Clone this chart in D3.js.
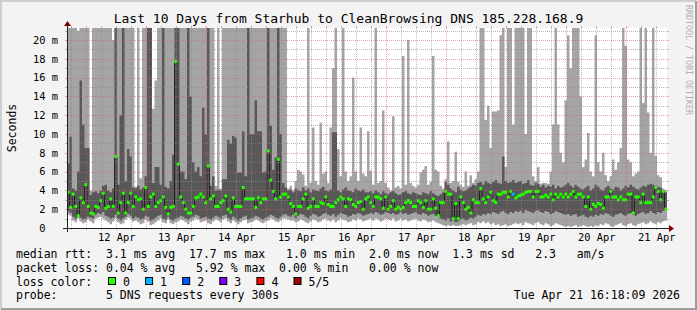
<!DOCTYPE html>
<html>
<head>
<meta charset="utf-8">
<script src="https://cdn.jsdelivr.net/npm/d3@7"></script>
<style>
  body { margin: 0; background: #fff; }
  svg text { font-family: "DejaVu Sans Mono", monospace; white-space: pre; }
</style>
</head>
<body>
<svg id="chart" width="697" height="310"></svg>
<script>
// hourly medians (ms), 240 points over 10 days
const med = [
  3.8,2.2,3.6,2.3,1.3,3.2,2.7,4.6,2.3,1.6, 1.5,2.3,2.2,2.9,3.7,2.1,2.3,3.1,2.3,7.6,
  1.6,2.7,3.7,1.6,2.7,3.7,2.3,3.3,3.0,3.1, 2.0,4.3,2.3,3.3,3.6,2.3,2.7,2.9,3.3,2.2,
  1.5,2.2,2.3,17.7,6.8,3.3,2.7,2.0,1.6,1.6, 2.3,3.2,3.3,3.6,3.3,2.7,6.6,3.1,3.4,2.3,
  2.3,2.7,2.9,3.4,2.0,1.7,3.2,2.3,2.3,2.3, 4.3,3.1,3.1,3.1,3.1,2.2,3.2,2.7,3.1,3.1,
  8.2,5.1,3.9,3.1,7.3,3.3,3.6,3.6,3.3,2.6, 2.3,1.5,2.3,2.3,3.1,3.6,2.1,2.3,3.1,2.3,
  2.3,2.7,2.6,3.3,2.5,2.3,2.3,2.7,3.0,3.3, 3.1,2.3,3.1,3.0,2.5,2.3,2.7,2.8,2.0,3.1,
  3.3,2.7,2.3,3.3,3.3,3.1,2.1,3.3,2.0,2.3, 2.9,2.0,2.2,2.0,2.2,2.7,2.9,2.7,2.3,2.3,
  2.9,2.7,2.2,2.9,2.0,2.0,3.1,2.1,1.3,2.7, 2.7,3.9,3.6,3.6,1.0,2.6,1.0,3.3,2.7,2.0,
  2.2,1.6,3.0,2.7,2.7,4.2,3.1,2.7,3.3,3.8, 2.9,2.7,3.6,3.6,3.8,3.8,3.3,3.9,3.6,3.2,
  3.4,3.5,3.6,3.8,3.9,3.9,3.3,3.9,3.9,3.3, 3.3,3.5,3.3,3.6,3.0,3.6,3.3,3.6,3.3,3.6,
  3.3,3.6,3.9,3.3,3.6,3.6,3.3,2.3,3.3,2.0, 2.5,2.3,2.6,2.5,2.1,3.3,3.3,3.9,3.3,3.3,
  3.0,3.3,3.0,3.0,3.6,3.6,1.6,3.3,3.3,2.7, 3.6,2.7,2.7,2.7,3.3,4.3,3.9,3.0,3.9,2.0
];
// fastest ping of each hour
const pMin = [
  1.4,1.3,0.8,0.6,1.0,0.7,0.5,0.6,0.9,0.7, 0.5,1.0,1.1,1.2,1.0,0.8,0.6,0.4,0.7,1.0,
  0.6,0.4,0.5,0.9,1.1,1.0,0.7,0.8,0.6,0.4, 0.5,0.9,0.7,0.3,0.4,0.6,0.8,1.0,0.6,0.5,
  0.9,0.5,0.4,0.6,0.7,0.9,0.8,0.6,0.4,0.7, 0.8,1.0,0.9,0.6,0.7,0.8,0.5,0.4,0.7,0.9,
  0.8,0.6,0.9,1.0,0.7,0.5,0.8,0.6,0.4,0.6, 0.8,0.9,0.5,0.6,0.7,0.9,0.8,0.6,0.5,0.7,
  0.8,1.0,0.9,0.7,0.6,0.8,1.0,1.0,0.9,0.8, 0.8,0.6,0.7,0.9,0.8,0.6,0.5,0.7,0.9,0.8,
  0.6,0.7,0.9,1.0,0.8,0.7,0.9,0.6,0.8,1.0, 0.9,0.8,0.6,0.7,0.9,0.8,1.0,0.9,0.7,0.8,
  0.9,1.0,0.8,1.0,0.9,0.7,0.8,1.0,0.9,0.8, 1.0,0.7,0.8,1.0,0.8,0.9,0.7,0.8,0.9,1.0,
  0.8,0.7,0.9,0.8,0.6,0.7,0.8,0.6,0.5,0.4, 0.3,0.2,0.3,0.2,0.3,0.2,0.2,0.3,0.4,0.3,
  0.4,0.5,0.3,0.4,0.6,0.5,0.7,0.5,0.6,0.4, 0.5,0.3,0.4,0.2,0.3,0.4,0.2,0.3,0.4,0.5,
  0.4,0.5,0.3,0.6,0.5,0.4,0.3,0.5,0.6,0.4, 0.3,0.5,0.4,0.2,0.3,0.5,0.4,0.3,0.2,0.1,
  0.2,0.1,0.2,0.3,0.1,0.2,0.3,0.2,0.1,0.2, 0.1,0.3,0.2,0.4,0.3,0.5,0.4,0.2,0.1,0.3,
  0.4,0.5,0.3,0.2,0.4,0.5,0.3,0.2,0.4,0.5, 0.6,0.4,0.5,0.7,0.5,0.4,0.6,0.5,0.7,0.8
];
// 2nd fastest ping
const p2 = [
  1.8,1.6,1.2,1.0,1.3,1.1,0.9,1.0,1.2,1.1, 1.0,1.4,1.6,1.5,1.7,1.3,1.2,1.0,1.1,1.4,
  1.0,0.8,1.0,1.2,1.5,1.3,1.0,1.2,1.1,0.9, 1.0,1.3,1.2,0.8,0.9,1.1,1.3,1.4,1.0,0.9,
  1.2,0.9,0.8,1.0,1.1,1.3,1.2,1.0,0.9,1.1, 1.2,1.4,1.3,1.0,1.1,1.2,1.0,0.9,1.1,1.3,
  1.2,1.0,1.3,1.4,1.1,0.9,1.2,1.0,0.8,1.0, 1.2,1.3,0.9,1.0,1.1,1.3,1.2,1.0,0.9,1.1,
  1.2,1.4,1.3,1.1,1.0,1.2,1.4,1.5,1.3,1.2, 1.4,1.1,1.3,1.5,1.4,1.2,1.0,1.3,1.5,1.4,
  1.2,1.3,1.5,1.6,1.4,1.3,1.5,1.2,1.4,1.6, 1.5,1.4,1.2,1.3,1.5,1.4,1.6,1.5,1.3,1.4,
  1.5,1.6,1.5,1.7,1.6,1.4,1.5,1.7,1.6,1.5, 1.6,1.4,1.5,1.7,1.5,1.6,1.4,1.5,1.6,1.7,
  1.5,1.4,1.6,1.5,1.3,1.4,1.5,1.3,1.2,1.0, 0.9,0.8,1.0,0.7,0.8,0.6,0.7,0.9,1.0,0.8,
  0.9,1.1,1.0,1.2,1.4,1.3,1.5,1.4,1.6,1.5, 1.7,1.6,1.5,1.7,1.8,1.6,1.5,1.7,1.6,1.8,
  1.7,1.8,1.6,1.9,1.8,1.7,1.6,1.8,1.9,1.7, 1.6,1.8,1.7,1.5,1.6,1.8,1.7,1.6,1.5,1.4,
  1.5,1.3,1.4,1.5,1.2,1.3,1.4,1.2,1.1,1.3, 1.2,1.4,1.3,1.5,1.4,1.6,1.5,1.3,1.2,1.4,
  1.5,1.6,1.4,1.3,1.5,1.6,1.4,1.3,1.5,1.6, 1.7,1.5,1.6,1.8,1.6,1.5,1.7,1.6,1.8,1.9
];
// 4th fastest ping (99 = off the top of the chart)
const p4 = [
  6.9,9.7,4.2,4.0,6.0,15.7,11.0,8.5,8.5,3.5, 3.8,3.9,3.7,4.0,4.5,4.6,4.0,3.8,4.2,99,
  4.6,12.0,99,5.0,8.4,7.6,4.3,4.2,4.5,4.1, 4.3,5.5,99,99,4.8,6.5,6.5,4.6,99,4.4,
  4.2,5.0,7.8,99,99,6.0,6.0,5.2,99,14.0, 7.0,6.0,6.5,5.5,12.8,10.0,99,4.5,5.5,4.0,
  4.1,4.0,5.2,5.2,9.4,9.0,9.8,9.6,5.9,5.9, 10.3,5.5,99,10.0,10.0,13.6,10.3,10.3,5.9,6.0,
  99,10.9,6.2,7.5,99,10.0,4.8,4.3,4.0,4.1, 3.8,4.2,4.0,3.9,4.3,4.0,4.2,3.8,4.1,4.0,
  3.9,4.2,4.4,4.0,3.9,4.1,10.2,10.2,4.0,3.8, 4.1,4.3,4.0,3.9,3.8,4.2,4.0,3.9,4.1,3.8,
  3.8,3.9,3.7,4.0,3.8,3.6,3.9,3.7,3.6,3.8, 3.9,3.7,3.5,3.6,3.8,3.9,3.7,3.6,3.8,3.7,
  3.6,3.5,3.8,3.7,3.6,3.9,3.7,3.5,3.4,3.6, 3.8,4.9,4.6,4.2,4.0,3.8,4.4,4.1,3.9,4.0,
  4.2,4.4,4.6,4.5,4.8,4.9,4.6,5.0,4.8,4.7, 4.9,5.1,4.8,4.7,7.6,5.0,4.8,4.9,5.1,4.8,
  4.9,5.0,4.7,4.8,5.1,4.6,4.5,4.8,4.7,4.4, 4.6,4.3,4.5,4.4,4.6,4.2,4.5,4.3,4.4,4.6,
  4.8,4.5,4.3,4.6,4.4,4.2,4.1,4.3,4.5,4.0, 4.2,4.6,4.4,4.1,4.0,4.3,4.5,4.2,4.1,4.4,
  4.3,4.0,4.2,4.5,4.3,4.6,4.4,4.2,4.1,4.3, 4.5,4.4,4.6,4.7,4.6,4.5,4.4,4.3,4.0,3.8
];
// slowest ping (99 = off the top of the chart)
const pMax = [
  99,99,99,99,21.0,99,99,99,99,4.0, 99,99,99,99,99,99,99,99,20.0,99,
  99,99,99,99,99,99,99,4.4,99,5.3, 99,99,99,99,12.7,15.7,99,99,99,99,
  99,99,99,99,99,99,99,99,99,99, 99,99,99,99,99,99,99,99,99,4.5,
  99,4.2,99,99,99,99,99,99,99,99, 99,99,99,99,99,99,99,99,99,99,
  99,99,99,99,99,99,99,99,4.2,4.5, 4.0,5.0,6.2,6.0,5.7,4.5,99,4.8,10.7,5.0,
  4.6,11.2,5.8,6.0,4.8,10.7,17.0,99,8.4,5.5, 99,6.0,5.0,5.5,16.0,6.0,5.0,10.7,5.8,5.5,
  10.3,6.1,4.6,99,4.8,5.0,12.5,4.8,4.3,4.0, 11.9,4.3,4.5,4.2,18.3,4.6,20.0,4.8,4.5,4.3,
  4.6,5.9,6.2,6.6,4.6,4.9,18.3,6.2,6.0,4.5, 4.2,5.2,9.2,4.8,5.0,8.1,4.9,4.6,4.4,6.0,
  4.5,5.6,4.8,5.2,6.0,99,99,11.5,13.0,8.5, 12.4,12.4,12.5,20.5,99,6.5,99,99,11.0,99,
  99,99,99,10.0,99,99,5.5,5.0,6.5,4.7, 4.8,4.8,4.7,6.0,11.0,99,11.0,8.0,7.0,13.6,
  20.5,17.0,99,99,99,14.0,6.5,7.3,10.1,6.0, 5.5,20.5,7.0,6.0,8.0,5.6,5.0,5.5,7.3,6.2,
  7.0,8.5,99,19.4,7.3,7.0,5.5,5.8,6.0,99, 13.3,99,12.3,8.0,99,7.7,5.6,5.4,4.2,4.0
];
// hours with lost pings: [index, lost count]
const lossPts = [[178, 1]];

const yTicks = [0, 2, 4, 6, 8, 10, 12, 14, 16, 18, 20];
const dayLabels = ["12 Apr","13 Apr","14 Apr","15 Apr","16 Apr","17 Apr","18 Apr","19 Apr","20 Apr","21 Apr"];
const lossNames = ["0", "1", "2", "3", "4", "5/5"];
const lossColors = ["#26ff00", "#00b8ff", "#0059ff", "#7e00ff", "#ff0000", "#a10000"];

const title = "Last 10 Days from Starhub to CleanBrowsing DNS 185.228.168.9";
const legendRtt = "median rtt:  3.1 ms avg  17.7 ms max   1.0 ms min  2.0 ms now  1.3 ms sd   2.3   am/s";
const legendLoss = "packet loss: 0.04 % avg   5.92 % max  0.00 % min   0.00 % now";
const legendProbe = "probe:       5 DNS requests every 300s";
const stamp = "Tue Apr 21 16:18:09 2026";

var svg = d3.select("#chart"),
    W = 697, H = 310;
var x0 = 67, x1 = 667, yTop = 28, yBot = 228;

var endTime = new Date(2026, 3, 21, 16, 18, 9);
var startTime = new Date(+endTime - 10 * 864e5);

var x = d3.scaleTime().domain([startTime, endTime]).range([x0, x1]);
var y = d3.scaleLinear().domain([0, 21.28]).range([yBot, yTop]);

var lossOf = new Map(lossPts);
var pts = med.map(function (m, i) {
  return { t: new Date(+startTime + i * 36e5), med: m, p1: pMin[i], p2: p2[i], p4: p4[i], p5: pMax[i], loss: lossOf.get(i) || 0 };
});
var ext = pts.concat([Object.assign({}, pts[pts.length - 1], { t: endTime })]);
var stepW = x(new Date(+startTime + 36e5)) - x0;

// background + 3d frame
svg.append("rect").attr("width", W).attr("height", H).attr("fill", "#f3f3f3");
svg.append("path").attr("d", "M1,309V1H696").attr("fill", "none").attr("stroke", "#cfcfcf").attr("stroke-width", 2);
svg.append("path").attr("d", "M1,309H696V1").attr("fill", "none").attr("stroke", "#9e9e9e").attr("stroke-width", 2);
svg.append("rect").attr("x", x0).attr("y", yTop).attr("width", x1 - x0).attr("height", yBot - yTop).attr("fill", "#fff");

svg.append("clipPath").attr("id", "plot")
  .append("rect").attr("x", x0).attr("y", yTop).attr("width", x1 - x0).attr("height", yBot - yTop);

var plot = svg.append("g").attr("clip-path", "url(#plot)");

function band(lo, hi) {
  return d3.area()
    .x(function (d) { return x(d.t); })
    .y0(function (d) { return y(d[lo]); })
    .y1(function (d) { return y(d[hi]); })
    .curve(d3.curveStepAfter);
}
// smoke
plot.append("path").datum(ext).attr("d", band("p1", "p5")).attr("fill", "#a4a4a4");
plot.append("path").datum(ext).attr("d", band("p2", "p4")).attr("fill", "#585858");

// grid
var grid = svg.append("g").attr("shape-rendering", "crispEdges");
var minorCol = "rgba(140,140,140,0.6)", majorCol = "rgba(224,90,90,0.55)";
d3.range(1, 22).forEach(function (v) {
  var yy = Math.round(y(v)) + 0.5, major = v % 2 === 0;
  var c = major ? majorCol : minorCol;
  grid.append("line").attr("x1", x0).attr("x2", x1).attr("y1", yy).attr("y2", yy)
    .attr("stroke", c).attr("stroke-dasharray", "1,1");
  grid.append("line").attr("x1", x0 - 2).attr("x2", x0).attr("y1", yy).attr("y2", yy).attr("stroke", c);
  grid.append("line").attr("x1", x1).attr("x2", x1 + 2).attr("y1", yy).attr("y2", yy).attr("stroke", c);
});
d3.timeHour.every(6).range(startTime, endTime).forEach(function (t) {
  var xx = Math.round(x(t)) + 0.5, major = t.getHours() === 0;
  var c = major ? majorCol : minorCol;
  grid.append("line").attr("x1", xx).attr("x2", xx).attr("y1", yTop).attr("y2", yBot)
    .attr("stroke", c).attr("stroke-dasharray", "1,1");
  grid.append("line").attr("x1", xx).attr("x2", xx).attr("y1", yBot).attr("y2", yBot + 2).attr("stroke", c);
  grid.append("line").attr("x1", xx).attr("x2", xx).attr("y1", yTop - 2).attr("y2", yTop).attr("stroke", c);
});

// median line + loss coloured marks
plot.append("path").datum(ext)
  .attr("d", d3.line().x(function (d) { return x(d.t); }).y(function (d) { return y(d.med); }).curve(d3.curveStepAfter))
  .attr("fill", "none").attr("stroke", "#202020").attr("stroke-width", 1);
plot.selectAll("rect.med").data(pts).enter().append("rect")
  .attr("class", "med")
  .attr("x", function (d) { return x(d.t) - 0.25; })
  .attr("width", stepW + 0.5)
  .attr("y", function (d) { return y(d.med) - 1.5; })
  .attr("height", 3)
  .attr("fill", function (d) { return lossColors[d.loss]; });

// axes lines + arrows
svg.append("line").attr("x1", x0 - 4).attr("x2", x1 + 4).attr("y1", yBot + 0.5).attr("y2", yBot + 0.5).attr("stroke", "#202020");
svg.append("line").attr("x1", x0 + 0.5).attr("x2", x0 + 0.5).attr("y1", yBot + 4).attr("y2", yTop - 4).attr("stroke", "#202020");
svg.append("path").attr("d", "M" + (x1 + 2) + "," + (yBot - 3) + "L" + (x1 + 2) + "," + (yBot + 4) + "L" + (x1 + 7) + "," + (yBot + 0.5) + "Z").attr("fill", "#800000");
svg.append("path").attr("d", "M" + (x0 - 3) + "," + (yTop - 2) + "L" + (x0 + 4) + "," + (yTop - 2) + "L" + (x0 + 0.5) + "," + (yTop - 7) + "Z").attr("fill", "#800000");

// axis labels
var yAxis = svg.append("g").attr("transform", "translate(" + x0 + ",0)")
  .call(d3.axisLeft(y).tickValues(yTicks).tickSize(0).tickPadding(9)
    .tickFormat(function (v) { return v === 0 ? "0\u00a0\u00a0" : v + " m"; }));
yAxis.select(".domain").remove();
yAxis.selectAll("text").attr("font-family", "DejaVu Sans Mono").attr("font-size", "10.4px").attr("fill", "#000");

var dayTimes = dayLabels.map(function (s, i) { return new Date(2026, 3, 12 + i, 12); });
var xAxis = svg.append("g").attr("transform", "translate(0," + yBot + ")")
  .call(d3.axisBottom(x).tickValues(dayTimes).tickSize(0).tickPadding(5.6)
    .tickFormat(function (d, i) { return dayLabels[i]; }));
xAxis.select(".domain").remove();
xAxis.selectAll("text").attr("font-family", "DejaVu Sans Mono").attr("font-size", "10.4px").attr("fill", "#000");

// title, unit, watermark
svg.append("text").attr("x", W / 2).attr("y", 23).attr("text-anchor", "middle")
  .attr("font-size", "13px").text(title);
svg.append("text").attr("transform", "translate(16," + ((yTop + yBot) / 2) + ") rotate(-90)")
  .attr("text-anchor", "middle").attr("font-size", "11.5px").text("Seconds");
svg.append("text").attr("transform", "translate(686,5) rotate(90)")
  .attr("font-size", "8.3px").attr("fill", "#b0b0b0").text("RRDTOOL / TOBI OETIKER");

// legend
var lg = svg.append("g").attr("font-size", "11.5px").attr("fill", "#000");
lg.append("text").attr("x", 16).attr("y", 257.5).text(legendRtt);
lg.append("text").attr("x", 16).attr("y", 271.5).text(legendLoss);
lg.append("text").attr("x", 16).attr("y", 285.5).text("loss color:");
lg.append("text").attr("x", 16).attr("y", 299).text(legendProbe);
lg.append("text").attr("x", 680).attr("y", 299).attr("text-anchor", "end").text(stamp);
lossNames.forEach(function (name, i) {
  var bx = 108 + i * 37.1;
  lg.append("rect").attr("x", bx + 0.5).attr("y", 277.5).attr("width", 7).attr("height", 7)
    .attr("fill", lossColors[i]).attr("stroke", "#000").attr("stroke-width", 1);
  lg.append("text").attr("x", bx + 15).attr("y", 285.5).text(name);
});
</script>
</body>
</html>
